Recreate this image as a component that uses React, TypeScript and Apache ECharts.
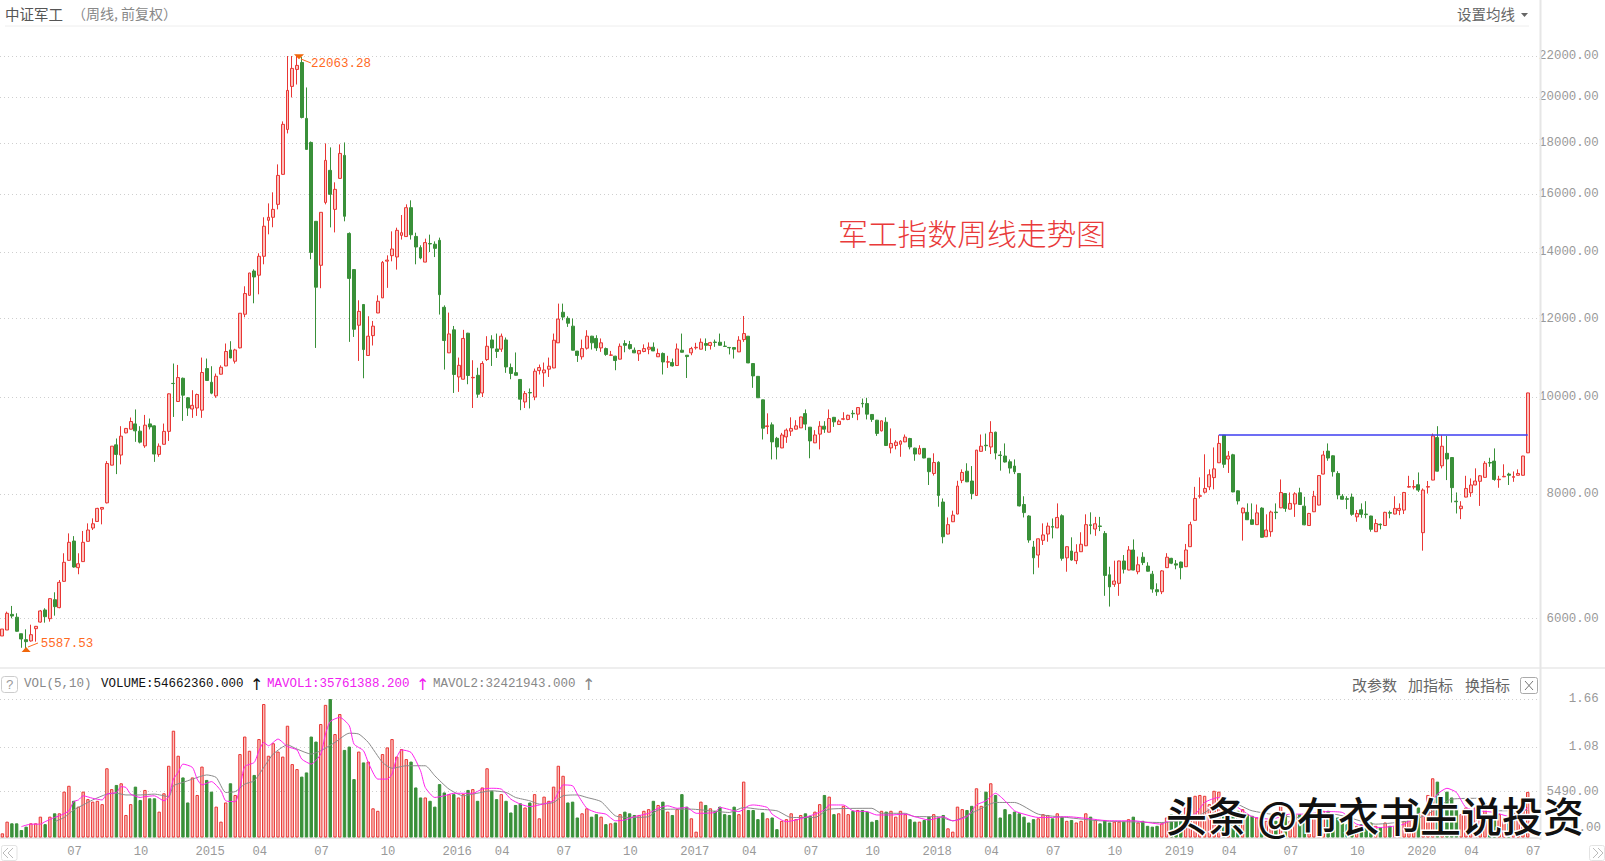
import React, { useEffect, useRef } from "react";
import * as echarts from "echarts";

const MONO = '"Liberation Mono", monospace';
const CJK = '"Noto Sans CJK SC", sans-serif';
const RED = "#e93634";
const RED_FILL = "#fbc0bc";
const GREEN = "#399039";

// weekly [open, close, low, high]
const candles = [
  [5765,5858,5765,5858],[5845,6075,5845,6098],[6060,6037,6005,6179],[6020,5828,5822,6075],[5795,5725,5610,5795],[5716,5690,5587.53,5854],[5699,5782,5690,5917],[5863,5895,5690,5900],[5953,6108,5945,6122],[6122,6028,5945,6146],
  [6000,6284,5959,6290],[6269,6169,6042,6377],[6155,6525,6146,6560],[6540,6834,6535,6978],[6865,7157,6860,7306],[7178,6760,6750,7260],[6750,6811,6648,6978],[6845,7157,6840,7347],[7173,7363,7170,7477],[7397,7470,7363,7564],
  [7510,7740,7505,7750],[7727,7757,7460,7760],[7840,8586,7830,8633],[8553,8936,8550,8936],[8963,8768,8378,9096],[8755,9145,8568,9358],[9215,9310,9205,9320],[9294,9460,9290,9547],[9408,9258,9026,9727],[9252,9020,8993,9358],
  [8942,9380,8902,9605],[9408,9343,9288,9525],[9365,8775,8618,9375],[8768,8936,8720,8993],[8975,9247,8970,9415],[9247,10084,9045,10095],[10330,10326,9560,10815],[9907,10470,9900,10780],[10453,10053,9474,10470],[9993,9760,9583,10010],
  [9737,9820,9540,10169],[9760,10068,9583,10090],[9711,10593,9540,10965],[10690,10400,10395,10940],[10358,10100,10075,10748],[10037,10502,9993,10568],[10552,10722,10545,10770],[10755,11120,10750,11327],[11160,10955,10950,11387],[10873,11160,10815,11190],
  [11213,12147,11200,12150],[12119,12712,12035,12927],[12660,13330,12650,13335],[13390,13208,12430,13444],[13262,13855,12690,13950],[13855,14850,13600,15160],[15054,15160,14575,15655],[15160,15440,14815,16060],[15620,16700,15440,17130],[16740,18790,16730,18918],
  [18570,20320,18400,22000],[20510,21380,19995,22000],[21330,21530,20600,22063.28],[21675,19090,19050,21945],[19050,17733,17730,20460],[18020,13980,13760,18060],[15020,12900,11212,15030],[13570,15335,12870,15340],[15690,17289,15620,17980],[16895,15985,14810,17815],
  [15440,16170,14640,16435],[16585,17570,16580,17940],[17490,15195,15020,18020],[14605,13165,11370,14640],[13435,11705,11500,13445],[11815,12200,10880,12516],[12395,11170,10453,12400],[11018,11520,11015,12063],[11535,11790,11275,11933],[12155,12488,12150,12660],
  [12585,13660,12580,13705],[13700,13733,12880,13885],[13875,14090,13695,14675],[13833,14710,13435,14800],[14540,14630,14400,15240],[14500,15500,14495,15620],[15500,14560,14400,15765],[14505,14155,13600,14630],[14135,13800,13760,14210],[13670,14300,13665,14430],
  [14270,14255,13990,14565],[14245,14110,13830,14340],[14375,12680,12110,14465],[12315,11405,10665,12370],[11085,11580,11080,12165],[11690,10545,10105,11795],[10485,10770,10130,10965],[10430,11460,10425,11690],[11600,10520,10310,11610],[10465,10475,9760,10898],
  [10525,10075,9993,10710],[10105,10815,10010,10873],[10915,11255,10880,11520],[11420,11212,10755,11545],[11185,11120,10955,11590],[11180,11520,11110,11590],[11420,10730,10585,11485],[10715,10570,10430,10815],[10590,10525,10520,11095],[10425,9960,9711,10430],
  [9897,10090,9760,10150],[10115,10105,9750,10210],[10010,10625,9937,10690],[10640,10715,10545,10790],[10585,10655,10250,10840],[10675,10748,10485,10965],[10705,11413,10700,11590],[11345,11985,11340,12420],[12175,12040,11952,12420],[12005,11870,11770,12063],
  [11790,11153,11150,12000],[11130,11018,10855,11135],[10985,11195,10915,11430],[11205,11520,11170,11680],[11520,11345,11170,11530],[11460,11212,11135,11545],[11212,11345,11110,11460],[11195,11045,11010,11222],[11025,11030,11010,11135],[11000,10890,10649,11010],
  [10925,11255,10920,11327],[11327,11280,11100,11413],[11300,11195,11170,11395],[11153,11085,11080,11222],[11060,11145,10880,11153],[11120,11195,11100,11305],[11180,11230,11050,11355],[11230,11135,11130,11355],[10985,11070,10980,11195],[11070,10855,10545,11095],
  [10850,10860,10705,11010],[10840,10755,10740,10940],[10765,11185,10760,11327],[11153,11100,11095,11590],[11025,10990,10460,11030],[11085,11195,11025,11240],[11215,11228,11170,11345],[11180,11360,11175,11460],[11327,11280,11135,11460],[11275,11350,11170,11370],
  [11365,11355,11240,11430],[11360,11280,11275,11590],[11258,11250,11240,11385],[11225,11215,11045,11230],[11222,11180,10940,11230],[11110,11413,11105,11520],[11430,11590,11370,12070],[11520,10830,10825,11525],[10815,10510,10225,10820],[10500,9993,9990,10505],
  [9945,9315,9075,9950],[9350,9365,9188,9640],[9387,9025,8667,9440],[9100,8920,8667,9130],[8900,9170,8895,9215],[9130,9273,9005,9310],[9252,9310,9150,9552],[9294,9365,9290,9489],[9322,9560,9320,9565],[9635,9403,9273,9727],
  [9337,9045,8690,9340],[9005,9170,9000,9273],[9188,9358,8870,9467],[9358,9294,9215,9467],[9230,9525,9225,9727],[9552,9452,9343,9560],[9395,9467,9390,9505],[9510,9520,9489,9665],[9505,9597,9489,9610],[9640,9630,9540,9711],
  [9622,9770,9489,9775],[9865,9855,9770,9975],[9860,9622,9505,9993],[9615,9505,9452,9625],[9489,9203,9150,9495],[9258,9475,9245,9480],[9445,8950,8945,9552],[8900,8993,8790,9310],[8950,9020,8870,9061],[8975,9040,8720,9061],
  [9025,9125,9020,9180],[9096,8920,8870,9110],[8895,8775,8640,8905],[8775,8890,8770,8955],[8890,8695,8690,8895],[8690,8425,8170,8695],[8390,8605,8350,8790],[8610,7975,7770,8630],[7855,7250,7140,7920],[7295,7455,7290,7580],
  [7505,7620,7500,7700],[7640,8150,7635,8250],[8258,8410,8205,8470],[8435,8230,8225,8590],[8245,8010,7905,8535],[7975,8855,7970,8860],[8830,8935,8825,9180],[8955,8945,8840,9200],[8920,9225,8775,9467],[9230,8795,8667,9240],
  [8755,8745,8445,8835],[8735,8615,8605,8993],[8620,8495,8390,8667],[8535,8425,8378,8667],[8390,7785,7775,8395],[7810,7665,7580,7960],[7605,7195,7150,7620],[7080,6905,6648,7180],[6950,7215,6750,7220],[7190,7280,7113,7477],
  [7295,7430,7167,7490],[7422,7412,7222,7562],[7400,7580,7395,7830],[7610,6897,6860,7635],[6905,7085,6687,7090],[7015,6870,6860,7240],[6860,6995,6805,7125],[7003,7125,7000,7325],[7100,7455,7095,7635],[7452,7442,7290,7670],
  [7380,7470,7265,7590],[7432,7425,7345,7590],[7305,6630,6325,7345],[6640,6457,6170,6765],[6495,6545,6457,6860],[6510,6855,6325,6860],[6855,6725,6660,6950],[6713,7031,6710,7095],[7031,6713,6710,7205],[6687,6795,6648,6925],
  [6915,6830,6790,6995],[6775,6695,6690,6835],[6650,6425,6370,6700],[6415,6385,6325,6510],[6385,6700,6350,6713],[6750,6915,6745,6980],[6897,6820,6805,6905],[6810,6790,6725,6870],[6838,6750,6570,6845],[6765,7031,6760,7130],
  [7085,7455,7080,7505],[7530,7920,7525,8135],[7960,7970,7920,8315],[8035,8105,8010,8770],[8135,8365,8074,8470],[8310,8480,8088,8910],[8600,8993,8595,9165],[9165,8570,8500,9170],[8675,8735,8400,8835],[8760,8040,8035,8780],
  [8060,7875,7810,8070],[7660,7745,7185,7755],[7670,7540,7535,7830],[7540,7460,7455,7830],[7455,7660,7450,7810],[7745,7240,7235,7760],[7250,7363,7245,7635],[7335,7675,7250,7700],[7675,7665,7550,7830],[7750,8030,7745,8275],
  [8010,7740,7680,8015],[7727,7830,7720,8030],[7820,8005,7590,8035],[8025,7810,7805,8118],[7780,7452,7445,7950],[7440,7650,7435,7660],[7680,7960,7675,8060],[7800,8350,7795,8360],[8378,8755,8375,8840],[8835,8695,8640,8993],
  [8740,8425,8330,8750],[8390,7985,7905,8435],[7960,7905,7900,8000],[7915,7905,7727,7960],[7945,7635,7610,8010],[7590,7650,7505,7710],[7715,7635,7575,7830],[7640,7630,7565,7870],[7605,7375,7335,7610],[7335,7475,7330,7550],
  [7462,7452,7375,7475],[7440,7670,7435,7680],[7665,7655,7565,7700],[7640,7740,7635,7960],[7705,7740,7620,7830],[7710,8030,7640,8040],[8130,8140,8118,8345],[8130,8140,8088,8263],[8175,8074,8040,8410],[7318,8074,7020,8105],
  [8130,8140,8010,8245],[8263,9150,8260,9200],[9115,8435,8430,9358],[8540,8935,8490,9165],[8790,8675,8263,9150],[8705,8120,7845,8715],[7870,7860,7650,8030],[7735,7780,7550,7870],[7945,8105,7940,8345],[8025,8170,7950,8295],
  [8170,8245,8165,8490],[8240,8345,7785,8360],[8315,8590,8310,8633],[8605,8595,8520,8700],[8633,8275,8250,8890],[8270,8280,8118,8345],[8325,8335,8320,8570],[8378,8355,8170,8405],[8315,8330,8230,8430],[8355,8390,8350,8470],
  [8355,8735,8350,8740],[8800,10105,8795,10110],
];

// weekly volume, in units of 100 million
const volumes = [
  .05,.19,.17,.17,.09,.13,.17,.17,.25,.16,.25,.29,.29,.55,.62,.44,.37,.55,.46,.43,
  .44,.40,.83,.58,.63,.65,.27,.40,.61,.45,.57,.47,.47,.31,.53,.86,1.28,.98,.72,.42,
  .72,.51,.85,.69,.55,.37,.19,.42,.65,.51,1.0,1.21,1.04,.75,1.18,1.60,.98,1.13,1.03,.97,
  1.34,.88,.82,.73,.78,1.21,1.15,1.36,1.59,1.66,1.24,1.48,1.05,1.09,.70,1.03,.90,.91,.35,.32,
  1.0,1.08,1.18,.97,1.06,.94,.91,.60,.48,.48,.44,.37,.64,.54,.52,.52,.48,.52,.57,.58,
  .44,.60,.83,.56,.46,.52,.44,.30,.39,.41,.36,.42,.52,.23,.49,.44,.61,.86,.74,.42,
  .43,.24,.29,.35,.25,.28,.25,.16,.17,.18,.28,.31,.29,.27,.27,.32,.34,.44,.39,.43,
  .31,.27,.34,.52,.37,.23,.07,.43,.39,.35,.32,.37,.28,.27,.37,.28,.67,.33,.33,.22,
  .30,.23,.24,.10,.20,.22,.29,.22,.27,.29,.26,.31,.40,.51,.49,.28,.29,.38,.28,.32,
  .33,.33,.31,.19,.21,.32,.31,.32,.25,.32,.28,.22,.19,.19,.21,.25,.28,.24,.27,.11,
  .07,.37,.34,.33,.38,.59,.38,.55,.65,.51,.24,.34,.28,.31,.29,.25,.18,.22,.23,.28,
  .27,.23,.29,.25,.20,.21,.18,.20,.29,.25,.21,.17,.21,.18,.19,.19,.19,.22,.25,.18,
  .20,.14,.13,.14,.17,.24,.28,.24,.28,.36,.44,.50,.51,.50,.40,.56,.55,.40,.36,.40,
  .32,.34,.28,.26,.24,.28,.20,.24,.20,.42,.28,.20,.28,.28,.24,.18,.24,.28,.32,.32,
  .24,.24,.18,.16,.20,.14,.16,.14,.18,.14,.12,.18,.14,.14,.14,.20,.24,.28,.36,.28,
  .51,.71,.67,.42,.55,.48,.40,.28,.36,.32,.36,.24,.40,.24,.32,.28,.24,.24,.36,.24,
  .36,.5466,
];

// weeks whose volume bar is red although the candle closed flat or lower
const redVolumeWeeks = [36, 118];

// moving averages of volume, [week, value]
const mavol1 = [
  [4,.13],[6,.16],[8,.16],[9,.19],[11,.24],[12,.26],[14,.32],[15,.43],[16,.45],[17,.50],[19,.47],[21,.45],[22,.52],[24,.54],[25,.61],[26,.60],[27,.52],[29,.48],[30,.49],[32,.50],
  [34,.44],[35,.49],[36,.70],[37,.78],[38,.88],[40,.84],[41,.70],[42,.63],[44,.67],[46,.56],[47,.44],[49,.43],[50,.60],[51,.85],[53,.90],[54,1.04],[55,1.14],[56,1.10],[58,1.18],[60,1.09],
  [62,1.05],[63,.94],[65,.88],[67,1.0],[68,1.24],[69,1.39],[71,1.44],[73,1.34],[74,1.12],[76,1.04],[77,.90],[79,.70],[81,.70],[82,.76],[83,.96],[84,1.05],[86,1.02],[88,.80],[89,.60],[91,.48],
  [93,.50],[95,.53],[99,.53],[101,.58],[103,.59],[105,.58],[107,.46],[109,.40],[111,.37],[113,.39],[116,.44],[117,.54],[118,.63],[120,.62],[121,.52],[123,.35],[125,.30],[127,.28],[129,.20],[131,.21],
  [133,.25],[136,.29],[138,.35],[140,.38],[142,.35],[144,.36],[146,.29],[150,.30],[151,.36],[155,.31],[157,.38],[158,.39],[161,.36],[162,.28],[165,.19],[167,.21],[170,.26],[173,.33],[174,.39],[177,.39],
  [179,.32],[182,.31],[184,.27],[187,.27],[190,.28],[192,.25],[195,.21],[198,.25],[200,.20],[203,.25],[205,.39],[207,.44],[209,.53],[211,.44],[213,.32],[215,.28],[218,.24],[221,.24],[224,.25],[228,.23],
  [233,.20],[238,.20],[244,.16],[245,.19],[251,.28],[253,.42],[256,.48],[260,.36],[263,.25],[267,.22],[271,.28],[274,.28],[279,.31],[282,.30],[285,.16],[290,.12],[295,.16],[298,.28],[300,.36],[302,.52],
  [304,.59],[306,.54],[308,.36],[311,.32],[314,.30],[318,.24],[321,.3576],
];
const mavol2 = [
  [11,.19],[13,.24],[15,.33],[17,.39],[19,.45],[22,.52],[24,.53],[26,.51],[29,.51],[32,.52],[35,.49],[36,.62],[38,.66],[40,.70],[43,.75],[45,.72],[47,.54],[49,.55],[51,.64],[53,.68],
  [55,.84],[57,1.0],[60,1.11],[62,1.06],[65,1.0],[67,1.04],[70,1.14],[73,1.25],[75,1.24],[77,1.14],[80,.90],[82,.83],[85,.86],[89,.86],[91,.74],[94,.58],[97,.50],[99,.52],[103,.56],[106,.54],
  [108,.48],[111,.44],[113,.40],[116,.42],[118,.50],[121,.51],[123,.48],[126,.43],[129,.26],[132,.24],[136,.25],[138,.33],[142,.34],[145,.34],[149,.32],[153,.30],[156,.36],[159,.34],[163,.32],[166,.24],
  [171,.24],[174,.34],[183,.35],[185,.29],[190,.29],[192,.25],[197,.25],[200,.20],[205,.32],[209,.42],[213,.42],[218,.28],[224,.24],[231,.20],[244,.18],[251,.24],[258,.44],[263,.32],[273,.24],[280,.28],
  [289,.16],[296,.20],[300,.28],[305,.46],[311,.47],[314,.32],[321,.3242],
];

const priceTicks = [6000, 8000, 10000, 12000, 14000, 16000, 18000, 20000, 22000];
const volumeTicks = [0.549, 1.08, 1.66];
const volumeTickNames: Record<string, string> = { "0.549": "5490.00", "1.08": "1.08", "1.66": "1.66" };

// week index -> label on the time axis
const timeLabels: Record<number, string> = {
  13: "07", 27: "10", 40: "2015", 52: "04", 65: "07", 79: "10", 92: "2016", 103: "04", 116: "07", 130: "10",
  142: "2017", 155: "04", 168: "07", 181: "10", 193: "2018", 206: "04", 219: "07", 232: "10", 244: "2019",
  256: "04", 269: "07", 283: "10", 295: "2020", 307: "04", 320: "07",
};

const weekSlots = 324; // two empty slots stay free to the right of the last candle
const categories = Array.from({ length: weekSlots }, (_, i) => String(i));
const resistanceLevel = 9170;

const label = (text: string, x: number, y: number, fill: string, font = MONO, fontSize = 12.5, extra = {}) => ({
  type: "text",
  x,
  y,
  silent: true,
  style: { text, fill, fontFamily: font, fontSize, textVerticalAlign: "middle", ...extra },
});
const rule = (x1: number, y1: number, x2: number, y2: number, stroke: string, lineWidth = 1) => ({
  type: "line",
  silent: true,
  shape: { x1, y1, x2, y2 },
  style: { stroke, lineWidth },
});
const chevrons = (x: number, y: number, dir: number) =>
  [0, 5].map((dx) => ({
    type: "polyline",
    silent: true,
    shape: {
      points: [
        [x + dir * dx + dir * 5, y - 5],
        [x + dir * dx, y],
        [x + dir * dx + dir * 5, y + 5],
      ],
    },
    style: { stroke: "#bbb", lineWidth: 1, fill: "none" },
  }));

const chrome = [
  rule(5, 26, 1529, 26, "#eeeeee"),
  rule(0, 668, 1605, 668, "#eeeeee", 2),
  rule(1540.5, 0, 1540.5, 840, "#e6e6e6", 2),
  label("中证军工", 5, 13, "#555", CJK, 14.5),
  label("（周线, 前复权）", 72, 13, "#888", CJK, 14),
  label("设置均线", 1457, 13, "#666", CJK, 14.5),
  { type: "polygon", silent: true, shape: { points: [[1521, 13], [1528, 13], [1524.5, 17]] }, style: { fill: "#666" } },
  label("军工指数周线走势图", 838, 231.5, "#e93a3a", CJK, 29.8, { fontWeight: 300 }),
  { type: "rect", silent: true, shape: { x: 1.5, y: 676.5, width: 16, height: 16, r: 3 }, style: { fill: "#fff", stroke: "#ccc" } },
  label("?", 6, 685, "#999", MONO, 13),
  label("VOL(5,10)", 24, 684, "#888"),
  label("VOLUME:54662360.000", 101, 684, "#111"),
  label("↑", 250, 684, "#111", "DejaVu Sans", 16),
  label("MAVOL1:35761388.200", 267, 684, "#f020f0"),
  label("↑", 416, 684, "#f020f0", "DejaVu Sans", 16),
  label("MAVOL2:32421943.000", 433, 684, "#888"),
  label("↑", 582, 684, "#888", "DejaVu Sans", 16),
  label("改参数", 1352, 684, "#666", CJK, 15),
  label("加指标", 1408, 684, "#666", CJK, 15),
  label("换指标", 1465, 684, "#666", CJK, 15),
  { type: "rect", silent: true, shape: { x: 1520.5, y: 677.5, width: 17, height: 16, r: 2 }, style: { fill: "#fff", stroke: "#aaa" } },
  rule(1525, 681, 1533, 690, "#777"),
  rule(1533, 681, 1525, 690, "#777"),
  label("0.00", 1571, 828, "#999"),
  { type: "rect", silent: true, shape: { x: 1.5, y: 845.5, width: 15.5, height: 15, r: 2 }, style: { fill: "#fff", stroke: "#e3e3e3" } },
  ...chevrons(3, 853, 1),
  { type: "rect", silent: true, shape: { x: 1589.5, y: 845.5, width: 15, height: 15, r: 2 }, style: { fill: "#fff", stroke: "#e3e3e3" } },
  ...chevrons(1603, 853, -1),
  rule(301, 59, 311, 63, "#ff6a1f"),
  rule(28, 647, 38, 643, "#ff6a1f"),
  label("头条 @布衣书生说投资", 1166, 814, "#111", CJK, 41, {
    stroke: "#fff",
    lineWidth: 3,
    fontWeight: 500,
  }),
];

export default function App() {
  const chartRef = useRef<HTMLDivElement | null>(null);

  useEffect(() => {
    if (!chartRef.current) return;
    const chart = echarts.init(chartRef.current, undefined, { renderer: "svg" });

    const option: any = {
      animation: false,
      backgroundColor: "#fff",
      grid: [
        { left: -1.68, top: 26, width: weekSlots * 4.757, height: 642 },
        { left: -1.68, top: 684.5, width: weekSlots * 4.757, height: 153 },
      ],
      xAxis: [
        { type: "category", gridIndex: 0, data: categories, show: false },
        {
          type: "category",
          gridIndex: 1,
          data: categories,
          axisLine: { lineStyle: { color: "#e6e6e6", width: 2 } },
          axisTick: {
            alignWithLabel: true,
            length: 4,
            lineStyle: { color: "#dddddd" },
            interval: (i: number) => i in timeLabels,
          },
          axisLabel: {
            interval: (i: number) => i in timeLabels,
            formatter: (_: string, i: number) => timeLabels[i] ?? "",
            color: (_: string, i: number) => ((timeLabels[i] ?? "").length === 4 ? "#222" : "#999"),
            align: "left",
            padding: [0, 0, 0, 3],
            margin: 8,
            fontFamily: MONO,
            fontSize: 12.2,
          },
        },
      ],
      yAxis: [
        {
          type: "log",
          gridIndex: 0,
          position: "right",
          logBase: 10,
          min: 5354,
          max: 23580,
          axisLine: { show: false },
          axisTick: { show: false, customValues: priceTicks },
          splitLine: { show: true, lineStyle: { color: "#cfcfcf", type: [1, 3] } },
          minorSplitLine: { show: false },
          axisLabel: {
            customValues: priceTicks,
            formatter: (v: number) => Number(v).toFixed(2),
            color: "#999",
            fontFamily: MONO,
            fontSize: 12.4,
            align: "right",
            margin: 59,
            padding: [3, 0, 0, 0],
          },
        },
        {
          type: "value",
          gridIndex: 1,
          position: "right",
          min: 0,
          max: 1.834,
          axisLine: { show: false },
          axisTick: { show: false, customValues: volumeTicks },
          splitLine: { show: true, lineStyle: { color: "#cfcfcf", type: [1, 3] } },
          axisLabel: {
            customValues: volumeTicks,
            formatter: (v: number) => volumeTickNames[String(v)] ?? String(v),
            color: "#999",
            fontFamily: MONO,
            fontSize: 12.4,
            align: "right",
            margin: 59,
            padding: [1, 0, 0, 0],
          },
        },
      ],
      series: [
        {
          type: "candlestick",
          xAxisIndex: 0,
          yAxisIndex: 0,
          barWidth: 3.4,
          data: candles,
          itemStyle: {
            color: RED_FILL,
            color0: GREEN,
            borderColor: RED,
            borderColor0: GREEN,
            borderWidth: 1,
          },
          markPoint: {
            silent: true,
            animation: false,
            data: [
              {
                coord: [62, 22063.28],
                symbol: "triangle",
                symbolRotate: 180,
                symbolSize: [10, 5],
                symbolOffset: [2, 2],
                itemStyle: { color: "#f0660a" },
                label: { position: "right", distance: 7, offset: [0, 7], formatter: "22063.28" },
              },
              {
                coord: [5, 5587.53],
                symbol: "triangle",
                symbolSize: [9, 5],
                itemStyle: { color: "#f0660a" },
                label: { position: "right", distance: 10, offset: [0, -6], formatter: "5587.53" },
              },
            ],
            label: { color: "#ff6a1f", fontFamily: MONO, fontSize: 12.5 },
          },
          markLine: {
            silent: true,
            animation: false,
            symbol: "none",
            label: { show: false },
            lineStyle: { color: "#3c3cf0", width: 1.5, type: "solid" },
            data: [[{ coord: [256, resistanceLevel] }, { coord: [321, resistanceLevel] }]],
          },
        },
        {
          type: "bar",
          xAxisIndex: 1,
          yAxisIndex: 1,
          barWidth: 3.4,
          data: volumes.map((value, i) => {
            const up = candles[i][1] >= candles[i][0] || redVolumeWeeks.includes(i);
            return {
              value,
              itemStyle: {
                color: up ? RED_FILL : GREEN,
                borderColor: up ? RED : GREEN,
                borderWidth: 1,
              },
            };
          }),
        },
        {
          type: "line",
          xAxisIndex: 1,
          yAxisIndex: 1,
          data: mavol2,
          showSymbol: false,
          smooth: 0.2,
          lineStyle: { color: "#8a8a8a", width: 1 },
        },
        {
          type: "line",
          xAxisIndex: 1,
          yAxisIndex: 1,
          data: mavol1,
          showSymbol: false,
          smooth: 0.2,
          lineStyle: { color: "#ff22ee", width: 1 },
        },
      ],
      graphic: { elements: chrome.map((el) => ({ ...el, z: 100 })) },
    };

    chart.setOption(option);
    return () => chart.dispose();
  }, []);

  return (
    <div
      ref={chartRef}
      style={{ position: "absolute", left: 0, top: 0, width: 1605, height: 861, background: "#fff" }}
    />
  );
}
